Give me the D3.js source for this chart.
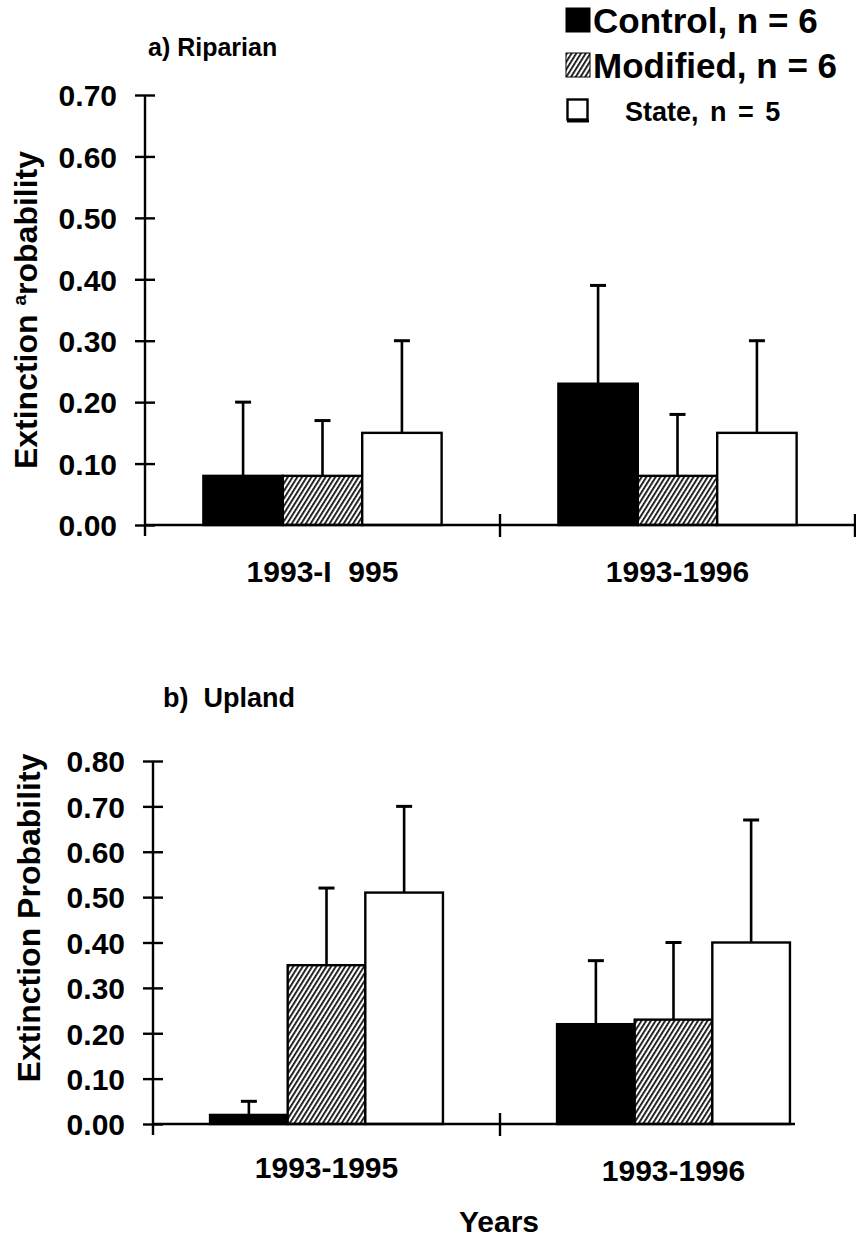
<!DOCTYPE html>
<html>
<head>
<meta charset="utf-8">
<script src="https://cdn.jsdelivr.net/npm/d3@7"></script>
<style>
  html, body { margin: 0; padding: 0; background: #fff; }
  svg { display: block; }
  text { font-family: "Liberation Sans", Arial, sans-serif; font-weight: bold; fill: #000; }
</style>
</head>
<body>
<svg id="chart" width="856" height="1239"></svg>
<script>
// Sampling periods and treatments
const periods = ["1993-1995", "1993-1996"];
const riparianPeriodLabels = ["1993-I  995", "1993-1996"];
const uplandPeriodLabels = ["1993-1995", "1993-1996"];
const treatments = ["Control", "Modified", "State"];
const legendLabels = ["Control, n = 6", "Modified, n = 6", "State, n = 5"];

// a) Riparian: mean extinction probability and standard error, per period
const riparianControl = [0.08, 0.23];
const riparianModified = [0.08, 0.08];
const riparianState = [0.15, 0.15];
const riparianControlErr = [0.12, 0.16];
const riparianModifiedErr = [0.09, 0.10];
const riparianStateErr = [0.15, 0.15];

// b) Upland
const uplandControl = [0.02, 0.22];
const uplandModified = [0.35, 0.23];
const uplandState = [0.51, 0.40];
const uplandControlErr = [0.03, 0.14];
const uplandModifiedErr = [0.17, 0.17];
const uplandStateErr = [0.19, 0.27];

// Axis ticks
const riparianTicks = [0, 0.1, 0.2, 0.3, 0.4, 0.5, 0.6, 0.7];
const uplandTicks = [0, 0.1, 0.2, 0.3, 0.4, 0.5, 0.6, 0.7, 0.8];

function rows(means, errs) {
  const out = [];
  periods.forEach((p, i) => {
    treatments.forEach((t, j) => {
      out.push({ period: p, treatment: t, value: means[j][i], err: errs[j][i] });
    });
  });
  return out;
}

const riparianData = rows(
  [riparianControl, riparianModified, riparianState],
  [riparianControlErr, riparianModifiedErr, riparianStateErr]);
const uplandData = rows(
  [uplandControl, uplandModified, uplandState],
  [uplandControlErr, uplandModifiedErr, uplandStateErr]);

const svg = d3.select("#chart");
const defs = svg.append("defs");

// Diagonal hatching for the Modified treatment
const hatch = defs.append("pattern")
  .attr("id", "hatch")
  .attr("patternUnits", "userSpaceOnUse")
  .attr("width", 4).attr("height", 8)
  .attr("patternTransform", "rotate(32)");
hatch.append("rect").attr("width", 4).attr("height", 8).attr("fill", "#fff");
hatch.append("rect").attr("width", 1.8).attr("height", 8).attr("fill", "#111");

const fillFor = { Control: "#000", Modified: "url(#hatch)", State: "#fff" };

function panel(opts) {
  const g = svg.append("g");
  const x = d3.scaleBand().domain(periods).range([opts.x0, opts.x1]).padding(0);
  const xs = d3.scaleBand().domain(treatments).range([0, x.bandwidth()])
    .paddingInner(0).paddingOuter(0.735);
  const y = d3.scaleLinear().domain([0, opts.max]).range([opts.y0, opts.yTop]);

  // bars
  g.selectAll("rect.bar").data(opts.data).join("rect")
    .attr("class", "bar")
    .attr("x", d => x(d.period) + xs(d.treatment))
    .attr("y", d => y(d.value))
    .attr("width", xs.bandwidth())
    .attr("height", d => y(0) - y(d.value))
    .attr("fill", d => fillFor[d.treatment])
    .attr("stroke", "#000")
    .attr("stroke-width", 2.4);

  // error bars (upper only)
  const cx = d => x(d.period) + xs(d.treatment) + xs.bandwidth() / 2;
  const eb = g.selectAll("g.err").data(opts.data).join("g").attr("class", "err");
  eb.append("line")
    .attr("x1", cx).attr("x2", cx)
    .attr("y1", d => y(d.value))
    .attr("y2", d => y(d.value + d.err))
    .attr("stroke", "#000").attr("stroke-width", 2.6);
  eb.append("line")
    .attr("x1", d => cx(d) - 8)
    .attr("x2", d => cx(d) + 8)
    .attr("y1", d => y(d.value + d.err))
    .attr("y2", d => y(d.value + d.err))
    .attr("stroke", "#000").attr("stroke-width", 3);

  // x axis baseline and category dividers
  g.append("line")
    .attr("x1", opts.x0).attr("x2", opts.xLineEnd)
    .attr("y1", y(0)).attr("y2", y(0))
    .attr("stroke", "#000").attr("stroke-width", 2.4);
  const dividers = opts.endTick ? [x(periods[1]), opts.x1] : [x(periods[1])];
  g.selectAll("line.div").data(dividers).join("line")
    .attr("class", "div")
    .attr("x1", d => d).attr("x2", d => d)
    .attr("y1", y(0) - 11).attr("y2", y(0) + 12)
    .attr("stroke", "#000").attr("stroke-width", 2.4);

  // category labels
  g.selectAll("text.cat").data(periods).join("text")
    .attr("class", "cat")
    .attr("x", d => x(d) + x.bandwidth() / 2)
    .attr("y", (d, i) => opts.catY[i])
    .attr("text-anchor", "middle")
    .attr("font-size", 30)
    .attr("xml:space", "preserve")
    .text((d, i) => opts.catLabels[i]);

  // y axis
  const ax = g.append("g")
    .attr("transform", `translate(${opts.x0},0)`)
    .call(d3.axisLeft(y).tickValues(opts.ticks).tickFormat(d3.format(".2f")).tickSize(0).tickPadding(0));
  ax.select(".domain").remove();
  ax.append("line")
    .attr("x1", 0).attr("x2", 0)
    .attr("y1", y(opts.max)).attr("y2", y(0) + 11)
    .attr("stroke", "#000").attr("stroke-width", 2.4);
  ax.selectAll(".tick line")
    .attr("x1", -10).attr("x2", 10)
    .attr("stroke", "#000").attr("stroke-width", 2.4);
  ax.selectAll(".tick text")
    .attr("x", -opts.labelGap)
    .attr("dy", "0.36em")
    .attr("font-size", 30)
    .attr("font-family", "'Liberation Sans', Arial, sans-serif")
    .attr("font-weight", "bold")
    .attr("fill", "#000");

  return { x, y };
}

// a) Riparian
panel({
  data: riparianData, max: 0.7, ticks: riparianTicks,
  x0: 145, x1: 855, xLineEnd: 855, y0: 525, yTop: 95,
  catY: [582, 582], catLabels: riparianPeriodLabels, labelGap: 28, endTick: true
});

// b) Upland
panel({
  data: uplandData, max: 0.8, ticks: uplandTicks,
  x0: 153, x1: 847, xLineEnd: 795, y0: 1124, yTop: 761,
  catY: [1178, 1181], catLabels: uplandPeriodLabels, labelGap: 28, endTick: false
});

// panel titles
svg.append("text").attr("x", 148).attr("y", 56)
  .attr("font-size", 25).text("a) Riparian");
svg.append("text").attr("x", 163).attr("y", 707)
  .attr("font-size", 27).attr("xml:space", "preserve").text("b)  Upland");

// y axis titles
const t1 = svg.append("text")
  .attr("transform", "translate(37,310) rotate(-90)")
  .attr("text-anchor", "middle")
  .attr("font-size", 32);
t1.append("tspan").text("Extinction ");
t1.append("tspan").attr("font-size", 19).attr("dy", -11).text("a");
t1.append("tspan").attr("dy", 11).text("robability");

svg.append("text")
  .attr("transform", "translate(40,918) rotate(-90)")
  .attr("text-anchor", "middle")
  .attr("font-size", 32)
  .text("Extinction Probability");

// x axis title
svg.append("text").attr("x", 499).attr("y", 1232)
  .attr("text-anchor", "middle").attr("font-size", 30).text("Years");

// legend
const legend = svg.append("g");
const legRows = legend.selectAll("g").data(treatments).join("g")
  .attr("transform", (d, i) => `translate(566,${8 + i * 45})`);
legRows.append("rect")
  .attr("x", d => d === "State" ? 1.5 : 0)
  .attr("y", d => d === "State" ? 1.5 : 0)
  .attr("width", d => d === "State" ? 20 : 24)
  .attr("height", d => d === "State" ? 20 : 24)
  .attr("fill", d => fillFor[d])
  .attr("stroke", "#000")
  .attr("stroke-width", d => d === "State" ? 2.4 : 1);
legRows.filter(d => d === "State").append("line")
  .attr("x1", 1).attr("x2", 23).attr("y1", 23).attr("y2", 23)
  .attr("stroke", "#000").attr("stroke-width", 3);
legRows.append("text")
  .attr("x", d => d === "State" ? 59 : 27)
  .attr("y", d => d === "State" ? 23 : 25)
  .attr("font-size", d => d === "State" ? 27 : 35)
  .attr("font-family", d => d === "State"
    ? "'Liberation Sans Narrow', 'Arial Narrow', 'Liberation Sans', sans-serif"
    : "'Liberation Sans', Arial, sans-serif")
  .attr("word-spacing", d => d === "State" ? 4 : 0)
  .text((d, i) => legendLabels[i]);
</script>
</body>
</html>
